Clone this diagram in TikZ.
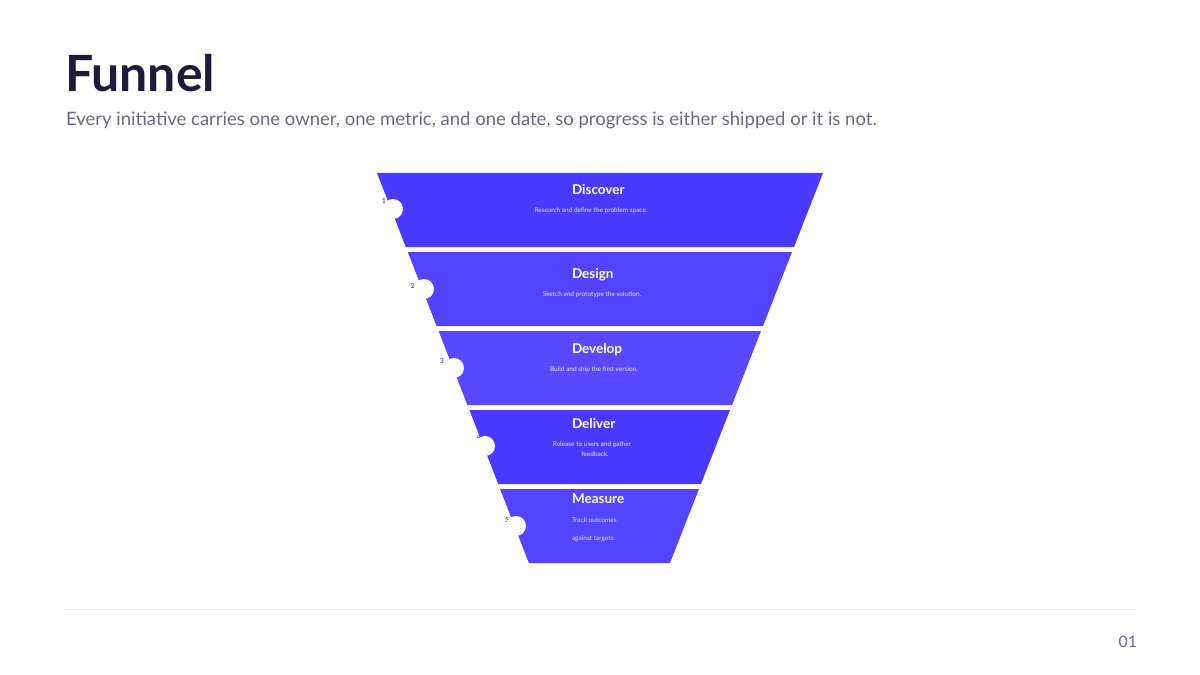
\documentclass[tikz,border=0pt]{standalone}
\usepackage{fontspec}
\setmainfont{Lato}
\usepackage{tikz}

\definecolor{ink}{HTML}{1E1B3A}
\definecolor{subgray}{HTML}{6B6A7C}
\definecolor{rulegray}{HTML}{E8E8EE}
\definecolor{numblue}{HTML}{5A4AFF}
\definecolor{segA}{HTML}{4A3AFF}
\definecolor{segB}{HTML}{5343FF}
\definecolor{segC}{HTML}{5A48FF}
\definecolor{segD}{HTML}{4A3AFF}
\definecolor{segE}{HTML}{5444FF}

\begin{document}
\begin{tikzpicture}[x=0.6pt, y=-0.6pt,
  every node/.style={inner sep=0pt, outer sep=0pt},
  stagetitle/.style={anchor=base west, text=white, font=\fontsize{8.1pt}{9pt}\selectfont\bfseries},
  stagetext/.style={text=white!88!segA, font=\fontsize{3.9pt}{5pt}\selectfont, align=center},
  stagenum/.style={text=numblue, font=\fontsize{4.2pt}{5pt}\selectfont\bfseries},
  dot/.style={circle, fill=white, minimum size=12pt}]
\useasboundingbox (0,0) rectangle (1200,675);

\node[anchor=base west, text=ink, font=\fontsize{30pt}{34pt}\selectfont\bfseries] (title) at (65,92) {Funnel};
\node[anchor=base west, text=subgray, font=\fontsize{11.1pt}{12pt}\selectfont] (subtitle) at (66,125) {Every initiative carries one owner, one metric, and one date, so progress is either shipped or it is not.};

\fill[segA] (377,173) -- (823,173) -- (794,247) -- (405.8,247) -- cycle;
\fill[segB] (407.8,252) -- (792,252) -- (763,326) -- (436.6,326) -- cycle;
\fill[segC] (438.6,331) -- (761,331) -- (732,405) -- (467.4,405) -- cycle;
\fill[segD] (469.4,410) -- (730,410) -- (701,484) -- (498.2,484) -- cycle;
\fill[segE] (500.1,489) -- (699,489) -- (670,563) -- (528.9,563) -- cycle;

\node[stagenum] (n1) at (384,201) {1};
\node[stagenum] (n2) at (413,286) {2};
\node[stagenum] (n3) at (442,361) {3};
\node[stagenum] (n4) at (479,437) {4};
\node[stagenum] (n5) at (507,520) {5};

\node[dot] (c1) at (393,209) {};
\node[dot] (c2) at (424,289) {};
\node[dot] (c3) at (454,368) {};
\node[dot] (c4) at (485,446) {};
\node[dot] (c5) at (516,526) {};

\node[stagetitle] (discover) at (572,194) {Discover};
\node[stagetitle] (design) at (572,278) {Design};
\node[stagetitle] (develop) at (572,353) {Develop};
\node[stagetitle] (deliver) at (572,428) {Deliver};
\node[stagetitle] (measure) at (572,503) {Measure};

\node[stagetext] (d1) at (591,211) {Research and define the problem space.};
\node[stagetext] (d2) at (592,295) {Sketch and prototype the solution.};
\node[stagetext] (d3) at (594,370) {Build and ship the first version.};
\node[stagetext] (d4a) at (592,445) {Release to users and gather};
\node[stagetext] (d4b) at (595,454) {feedback.};
\node[stagetext, anchor=west] (d5a) at (572,520) {Track outcomes};
\node[stagetext, anchor=west] (d5b) at (572,539) {against targets.};

\draw[rulegray, line width=0.6pt] (66,609) -- (1134,609);
\node[anchor=base east, text=subgray, font=\fontsize{9.5pt}{10pt}\selectfont] (page) at (1137,647) {01};
\end{tikzpicture}
\end{document}
